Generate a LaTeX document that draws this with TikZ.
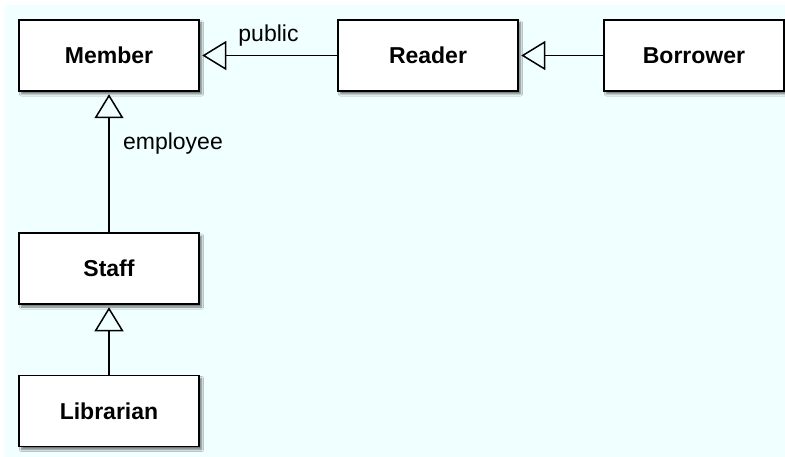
\documentclass[tikz,border=0pt]{standalone}
\usepackage{fontspec}
\setmainfont{Liberation Sans}
\usepackage{tikz}
\usetikzlibrary{arrows.meta,shadows.blur}
\definecolor{bgcyan}{RGB}{240,255,255}
\begin{document}
\begin{tikzpicture}[x=1pt,y=-1pt,
    cls/.style={draw,fill=white,line width=1.5pt,minimum width=180pt,minimum height=71pt,inner sep=0pt,
      font=\fontsize{23}{27}\selectfont\bfseries,
      blur shadow={shadow xshift=2.5pt,shadow yshift=-3pt,shadow blur steps=6,shadow opacity=55}},
    gen/.style={-{Triangle[open,length=24pt,width=29pt,line width=1.5pt]},line width=1.5pt,shorten >=2.5pt},
    lbl/.style={font=\fontsize{23}{27}\selectfont}]
    \useasboundingbox (0,0) rectangle (785,457);
    \fill [bgcyan] (5,5) rectangle (785,457);
    \node [cls] (member) at (109,55.5) {Member};
    \node [cls] (reader) at (428,55.5) {Reader};
    \node [cls] (borrower) at (694,55.5) {Borrower};
    \node [cls] (staff) at (109,268.5) {Staff};
    \node [cls] (librarian) at (109,411) {Librarian};
    \draw [gen] (reader.west)--(member.east) node [lbl,midway,above=5pt]{public};
    \draw [gen] (borrower.west)--(reader.east);
    \draw [gen] (staff.north)--(member.south) node [lbl,pos=0.59,anchor=base west,xshift=10pt]{employee};
    \draw [gen] (librarian.north)--(staff.south);
  \end{tikzpicture}
\end{document}
